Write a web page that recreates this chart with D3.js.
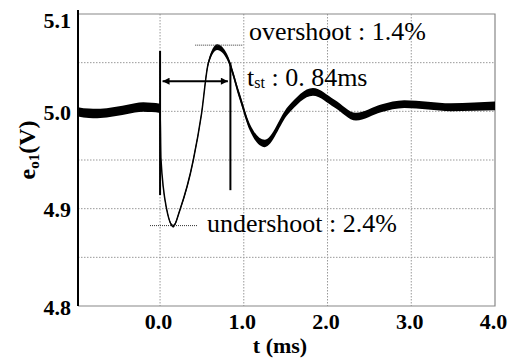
<!doctype html>
<html>
    <head>
        <meta charset="utf-8">
        <title>output voltage transient</title>
        <script src="https://d3js.org/d3.v7.min.js"></script>
        <style type="text/css">
            body { margin:0; background:#fff; }
            text { font-family:"Liberation Serif", serif; fill:#000; }
            .note { font-size:26px; }
        </style>
    </head>
    <body>
        <svg></svg>
        <script type="text/javascript">

            var w = 515,
                h = 360,
                plotL = 78,
                plotR = 495,
                plotT = 14,
                plotB = 306;

            var serif = '"Liberation Serif", serif';

            // measured waveform (t in ms, volts, half-width of the noise band)
            var time = [-0.98, -0.85, -0.75, -0.6, -0.45, -0.3, -0.2, -0.1, 0,
                        0.01, 0.08, 0.158, 0.238, 0.397, 0.496, 0.575, 0.683, 0.8, 0.952,
                        1.07, 1.25, 1.528, 1.825, 2.083, 2.34, 2.639, 2.917, 3.2, 3.472, 3.75, 4.0];
            var voltage = [4.9995, 4.998, 4.9978, 4.999, 5.001, 5.0035, 5.0045, 5.004, 5.003,
                           4.952, 4.899, 4.882, 4.899, 4.95, 4.998, 5.049, 5.066, 5.056, 5.015,
                           4.984, 4.967, 5.001, 5.020, 5.008, 4.9945, 5.003, 5.0073, 5.0058, 5.0042, 5.0048, 5.0055];
            var ripple = [0.0048, 0.0048, 0.0048, 0.0048, 0.0048, 0.0048, 0.0048, 0.0048, 0.0048,
                          0.001, 0.0012, 0.0015, 0.0015, 0.002, 0.002, 0.0025, 0.003, 0.003, 0.0035,
                          0.0035, 0.0038, 0.004, 0.004, 0.004, 0.004, 0.004, 0.004, 0.004, 0.004, 0.0042, 0.0045];

            var xTicks = [0, 1, 2, 3, 4];
            var yTicks = [4.8, 4.9, 5.0, 5.1];
            var xGrid = [0, 1, 2, 3];
            var yGrid = [4.85, 4.9, 4.95, 5.0, 5.05];

            // settling-time markers and peak levels
            var settleT = [0, 0.84];
            var settleLo = [4.914, 4.919];
            var settleHi = [5.062, 5.050];
            var arrowT = [0.03, 0.81];
            var arrowV = 5.031;
            var overLevel = 5.068, overT = [0.42, 0.99];
            var underLevel = 4.8826, underT = [-0.12, 0.45];

            var data = time.map(function(t, i) {
                return { t: t, v: voltage[i], r: ripple[i] };
            });

            var x = d3.scaleLinear().domain([-0.98, 4.0]).range([plotL, plotR]);
            var y = d3.scaleLinear().domain([4.8, 5.1]).range([plotB, plotT]);

            var svg = d3.select('svg')
                .attr('width', w)
                .attr('height', h);

            // grid
            svg.append('g').selectAll('line')
                .data(xGrid)
                .enter().append('line')
                .attr('x1', function(d){ return x(d); })
                .attr('x2', function(d){ return x(d); })
                .attr('y1', plotT)
                .attr('y2', plotB)
                .attr('stroke', '#999')
                .attr('stroke-dasharray', '1.5,1.5');

            svg.append('g').selectAll('line')
                .data(yGrid)
                .enter().append('line')
                .attr('x1', plotL)
                .attr('x2', plotR)
                .attr('y1', function(d){ return y(d); })
                .attr('y2', function(d){ return y(d); })
                .attr('stroke', '#999')
                .attr('stroke-dasharray', '1.5,1.5');

            // frame (top, right, bottom grey)
            svg.append('path')
                .attr('d', 'M' + plotL + ',' + plotT + 'H' + plotR + 'V' + plotB + 'H' + plotL)
                .attr('fill', 'none')
                .attr('stroke', '#888')
                .attr('stroke-width', 1.2);

            // waveform: noise band + centre line
            var band = d3.area()
                .x(function(d){ return x(d.t); })
                .y0(function(d){ return y(d.v - d.r); })
                .y1(function(d){ return y(d.v + d.r); })
                .curve(d3.curveMonotoneX);

            var line = d3.line()
                .x(function(d){ return x(d.t); })
                .y(function(d){ return y(d.v); })
                .curve(d3.curveMonotoneX);

            svg.append('path')
                .datum(data)
                .attr('d', band)
                .attr('fill', '#000');

            svg.append('path')
                .datum(data)
                .attr('d', line)
                .attr('fill', 'none')
                .attr('stroke', '#000')
                .attr('stroke-width', 1.5);

            // settling markers
            svg.append('g').selectAll('line')
                .data(settleT)
                .enter().append('line')
                .attr('x1', function(d){ return x(d); })
                .attr('x2', function(d){ return x(d); })
                .attr('y1', function(d, i){ return y(settleHi[i]); })
                .attr('y2', function(d, i){ return y(settleLo[i]); })
                .attr('stroke', '#000')
                .attr('stroke-width', 2);

            var defs = svg.append('defs');
            defs.append('marker')
                .attr('id', 'head')
                .attr('viewBox', '0 0 10 10')
                .attr('refX', 10)
                .attr('refY', 5)
                .attr('markerWidth', 9)
                .attr('markerHeight', 7)
                .attr('markerUnits', 'userSpaceOnUse')
                .attr('orient', 'auto-start-reverse')
                .append('path')
                .attr('d', 'M0,0L10,5L0,10Z')
                .attr('fill', '#000');

            svg.append('line')
                .attr('x1', x(arrowT[0]))
                .attr('x2', x(arrowT[1]))
                .attr('y1', y(arrowV))
                .attr('y2', y(arrowV))
                .attr('stroke', '#000')
                .attr('stroke-width', 2)
                .attr('marker-start', 'url(#head)')
                .attr('marker-end', 'url(#head)');

            // peak levels
            svg.append('line')
                .attr('x1', x(overT[0]))
                .attr('x2', x(overT[1]))
                .attr('y1', y(overLevel))
                .attr('y2', y(overLevel))
                .attr('stroke', '#333')
                .attr('stroke-dasharray', '1,1');

            svg.append('line')
                .attr('x1', x(underT[0]))
                .attr('x2', x(underT[1]))
                .attr('y1', y(underLevel))
                .attr('y2', y(underLevel))
                .attr('stroke', '#333')
                .attr('stroke-dasharray', '1,1');

            // axes
            var xAxis = svg.append('g')
                .attr('transform', 'translate(0,' + plotB + ')')
                .call(d3.axisBottom(x).tickValues(xTicks).tickSize(0).tickFormat(d3.format('.1f')));
            xAxis.attr('font-family', null).attr('font-size', null);
            xAxis.select('.domain').remove();
            xAxis.selectAll('text')
                .style('font-family', serif)
                .style('font-weight', 'bold')
                .style('font-size', '22px')
                .attr('y', 23)
                .attr('dy', 0)
                .attr('dx', -2);

            var yAxis = svg.append('g')
                .attr('transform', 'translate(' + plotL + ',0)')
                .call(d3.axisLeft(y).tickValues(yTicks).tickSize(0).tickFormat(d3.format('.1f')));
            yAxis.attr('font-family', null).attr('font-size', null);
            yAxis.select('.domain').remove();
            yAxis.selectAll('text')
                .style('font-family', serif)
                .style('font-weight', 'bold')
                .style('font-size', '22px')
                .attr('x', -7)
                .attr('dy', function(d){ return d === 5.1 ? 13 : 8; });

            svg.append('line')
                .attr('x1', plotL)
                .attr('x2', plotL)
                .attr('y1', plotT - 4)
                .attr('y2', plotB)
                .attr('stroke', '#000')
                .attr('stroke-width', 2);

            // axis titles
            svg.append('text')
                .attr('x', 280)
                .attr('y', 353)
                .attr('text-anchor', 'middle')
                .style('font-family', serif)
                .style('font-weight', 'bold')
                .style('font-size', '22px')
                .text('t (ms)');

            var yl = svg.append('text')
                .attr('transform', 'translate(35,150) rotate(-90)')
                .attr('text-anchor', 'middle')
                .style('font-family', serif)
                .style('font-weight', 'bold')
                .style('font-size', '24px');
            yl.append('tspan').text('e');
            yl.append('tspan').attr('dy', 4).style('font-size', '15px').text('o1');
            yl.append('tspan').attr('dy', -4).text('(V)');

            // annotations
            svg.append('text')
                .attr('class', 'note')
                .attr('x', 249)
                .attr('y', 40)
                .text('overshoot : 1.4%');

            var ts = svg.append('text')
                .attr('class', 'note')
                .attr('x', 247)
                .attr('y', 86);
            ts.append('tspan').text('t');
            ts.append('tspan').attr('dy', 2).style('font-size', '16px').text('st');
            ts.append('tspan').attr('dy', -2).text(' : 0. 84ms');

            svg.append('text')
                .attr('class', 'note')
                .attr('x', 207)
                .attr('y', 232)
                .text('undershoot : 2.4%');
        </script>
    </body>
</html>
